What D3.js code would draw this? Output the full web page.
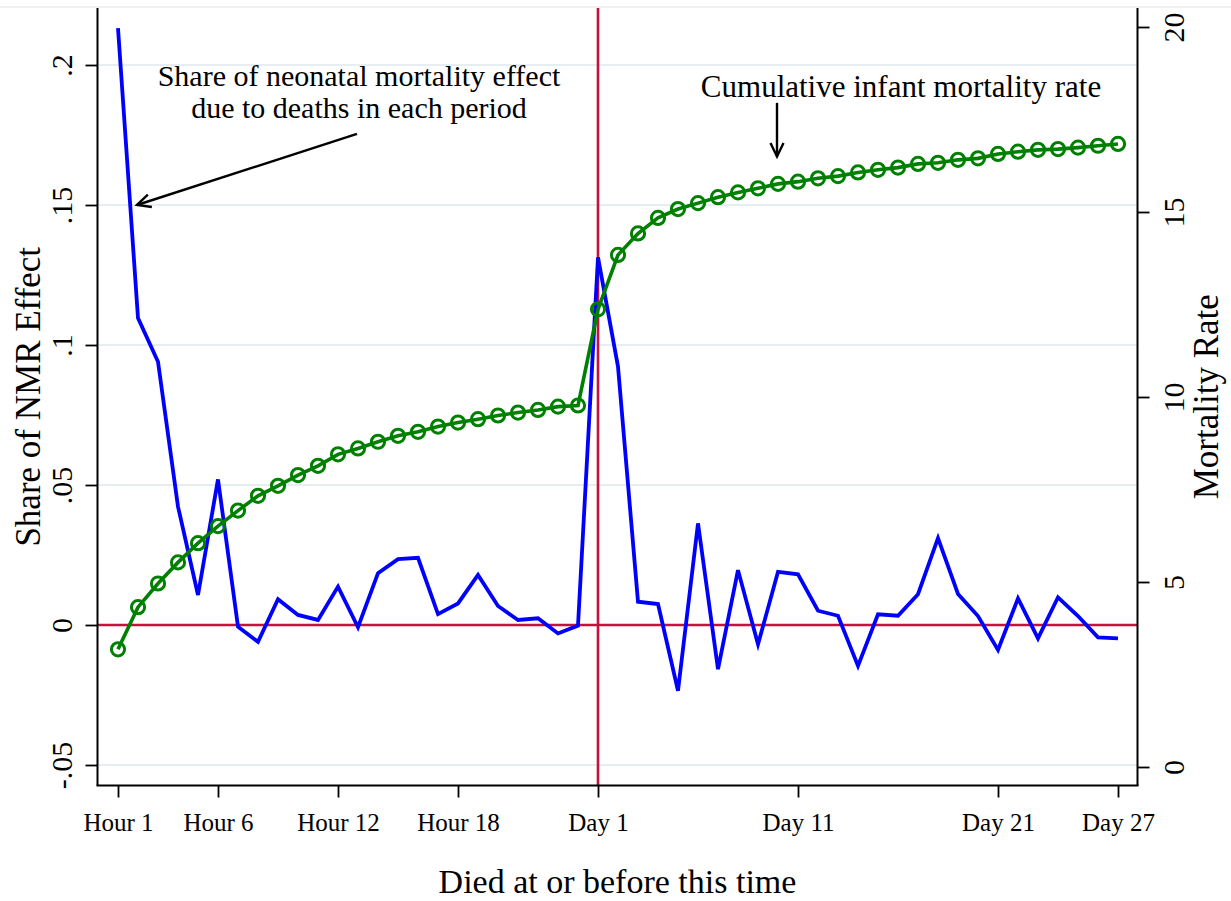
<!DOCTYPE html>
<html><head><meta charset="utf-8">
<script src="https://cdn.jsdelivr.net/npm/d3@7"></script>
<style>body{margin:0;background:#fff}svg{display:block}text{font-family:"Liberation Serif","Times New Roman",serif;fill:#000}</style>
</head><body><svg id="c" width="1231" height="901"></svg>
<script>
const hours = d3.range(1, 25).map(h => "Hour " + h);
const days = d3.range(1, 28).map(d => "Day " + d);
const periods = hours.concat(days);
const nmrShare = [0.2132,0.1096,0.094,0.0423,0.0107,0.052,-0.0006,-0.006,0.0092,0.0036,0.0018,0.0137,-0.0008,0.0185,0.0235,0.0240,0.0039,0.0077,0.0179,0.0068,0.0018,0.0024,-0.003,-0.0002,0.1313,0.0923,0.0083,0.0075,-0.0235,0.0363,-0.0158,0.0196,-0.0069,0.019,0.0181,0.0051,0.0033,-0.0146,0.0038,0.0033,0.011,0.031,0.0111,0.0032,-0.0089,0.0095,-0.0048,0.0099,0.0032,-0.0044,-0.0048];
const mortalityRate = [3.18,4.32,4.96,5.53,6.05,6.51,6.93,7.33,7.60,7.89,8.14,8.45,8.61,8.79,8.95,9.06,9.20,9.31,9.40,9.50,9.58,9.65,9.74,9.77,12.37,13.84,14.42,14.84,15.08,15.24,15.40,15.53,15.64,15.76,15.82,15.91,15.97,16.07,16.14,16.20,16.30,16.33,16.41,16.45,16.57,16.63,16.68,16.70,16.74,16.79,16.84];
const xTickLabels = ["Hour 1","Hour 6","Hour 12","Hour 18","Day 1","Day 11","Day 21","Day 27"];
const leftTicks = [-0.05, 0, 0.05, 0.1, 0.15, 0.2];
const leftTickLabels = ["-.05","0",".05",".1",".15",".2"];
const rightTicks = [0, 5, 10, 15, 20];
const annot1Lines = ["Share of neonatal mortality effect","due to deaths in each period"];
const annot1Pos = {x: 12.05, y: 0.1925};
const arrow1 = {x1: 11.95, y1: 0.1754, x2: 0.95, y2: 0.150};
const annot2Text = "Cumulative infant mortality rate";
const annot2Pos = {x: 39.15, y: 18.1};
const arrow2 = {x1: 32.95, y1: 17.95, x2: 32.95, y2: 16.5};

const svg = d3.select("#c");
const L = 97.5, R = 1137.5, T = 8, B = 785.5;
const x = d3.scalePoint().domain(periods).range([118, 1118]);
const xi = d3.scaleLinear().domain([0, periods.length - 1]).range([118, 1118]);
const yL = d3.scaleLinear().domain([-0.05, 0.2]).range([765, 65]);
const yR = d3.scaleLinear().domain([0, 20]).range([767, 27]);

// top border faint
svg.append("line").attr("x1",0).attr("x2",1231).attr("y1",7).attr("y2",7).attr("stroke","#ececec").attr("stroke-width",1.5);

// gridlines
svg.append("g").selectAll("line").data(leftTicks.filter(t => t !== 0)).join("line")
  .attr("x1", L).attr("x2", R).attr("y1", d => yL(d)).attr("y2", d => yL(d))
  .attr("stroke", "#e6eef2").attr("stroke-width", 2.2);

// reference lines
const red = "#c8103c";
svg.append("line").attr("x1", L).attr("x2", R).attr("y1", yL(0)).attr("y2", yL(0)).attr("stroke", red).attr("stroke-width", 2.6);
svg.append("line").attr("x1", x("Day 1")).attr("x2", x("Day 1")).attr("y1", T).attr("y2", B).attr("stroke", red).attr("stroke-width", 2.6);

// axes
const gL = svg.append("g").attr("transform", `translate(${L},0)`)
  .call(d3.axisLeft(yL).tickValues(leftTicks).tickFormat((d,i) => leftTickLabels[i]).tickSize(12).tickPadding(14));
const gR = svg.append("g").attr("transform", `translate(${R},0)`)
  .call(d3.axisRight(yR).tickValues(rightTicks).tickSize(12).tickPadding(14));
const gB = svg.append("g").attr("transform", `translate(0,${B})`)
  .call(d3.axisBottom(x).tickValues(xTickLabels).tickSize(12).tickPadding(14));
[gL, gR, gB].forEach(g => {
  g.select(".domain").remove();
  g.selectAll(".tick line").attr("stroke", "#000").attr("stroke-width", 1.8);
  g.selectAll("text").attr("font-family", "Liberation Serif, Times New Roman, serif").attr("fill", "#000");
});
gB.selectAll("text").attr("font-size", 25).attr("dy", null).attr("y", 45);
gL.selectAll("text").attr("font-size", 30).attr("text-anchor", "middle").attr("dy", null)
  .attr("x", null).attr("transform", "translate(-26,0) rotate(-90)").attr("y", 0);
gR.selectAll("text").attr("font-size", 30).attr("text-anchor", "middle").attr("dy", null)
  .attr("x", null).attr("transform", "translate(46,0) rotate(-90)").attr("y", 0);

// axis lines
svg.append("line").attr("x1", L).attr("x2", L).attr("y1", T).attr("y2", B).attr("stroke", "#000").attr("stroke-width", 2);
svg.append("line").attr("x1", R).attr("x2", R).attr("y1", T).attr("y2", B).attr("stroke", "#000").attr("stroke-width", 2);
svg.append("line").attr("x1", L - 1).attr("x2", R + 1).attr("y1", B).attr("y2", B).attr("stroke", "#000").attr("stroke-width", 2);

// blue line
svg.append("path").datum(nmrShare)
  .attr("d", d3.line().x((d,i) => x(periods[i])).y(d => yL(d)))
  .attr("fill", "none").attr("stroke", "#0000ff").attr("stroke-width", 3.8).attr("stroke-linejoin", "miter");

// green line + circles
const green = "#008000";
svg.append("path").datum(mortalityRate)
  .attr("d", d3.line().x((d,i) => x(periods[i])).y(d => yR(d)))
  .attr("fill", "none").attr("stroke", green).attr("stroke-width", 3.6);
svg.append("g").selectAll("circle").data(mortalityRate).join("circle")
  .attr("cx", (d,i) => x(periods[i])).attr("cy", d => yR(d)).attr("r", 6.6)
  .attr("fill", "none").attr("stroke", green).attr("stroke-width", 3);

// titles
svg.append("text").attr("transform", `translate(40,${(T+B)/2}) rotate(-90)`).attr("text-anchor", "middle")
  .attr("font-size", 35).text("Share of NMR Effect");
svg.append("text").attr("transform", `translate(1218,${(T+B)/2}) rotate(-90)`).attr("text-anchor", "middle")
  .attr("font-size", 35).text("Mortality Rate");
svg.append("text").attr("x", (L+R)/2).attr("y", 893).attr("text-anchor", "middle")
  .attr("font-size", 34).text("Died at or before this time");

// annotations
function arrow(a, ys) {
  const x1 = xi(a.x1), y1 = ys(a.y1), x2 = xi(a.x2), y2 = ys(a.y2);
  svg.append("line").attr("x1", x1).attr("y1", y1).attr("x2", x2).attr("y2", y2)
    .attr("stroke", "#000").attr("stroke-width", 2.4);
  const ang = Math.atan2(y2 - y1, x2 - x1), len = 15, spread = 0.45;
  const p = [[x2 - len*Math.cos(ang - spread), y2 - len*Math.sin(ang - spread)], [x2, y2],
             [x2 - len*Math.cos(ang + spread), y2 - len*Math.sin(ang + spread)]];
  svg.append("path").attr("d", d3.line()(p)).attr("fill", "none").attr("stroke", "#000").attr("stroke-width", 2.4);
}
annot1Lines.forEach((s, i) => svg.append("text").attr("text-anchor", "middle").attr("font-size", 30)
  .attr("x", xi(annot1Pos.x)).attr("y", yL(annot1Pos.y) + i*32).text(s));
arrow(arrow1, yL);
svg.append("text").attr("x", xi(annot2Pos.x)).attr("y", yR(annot2Pos.y)).attr("text-anchor", "middle")
  .attr("font-size", 31).text(annot2Text);
arrow(arrow2, yR);
</script></body></html>
